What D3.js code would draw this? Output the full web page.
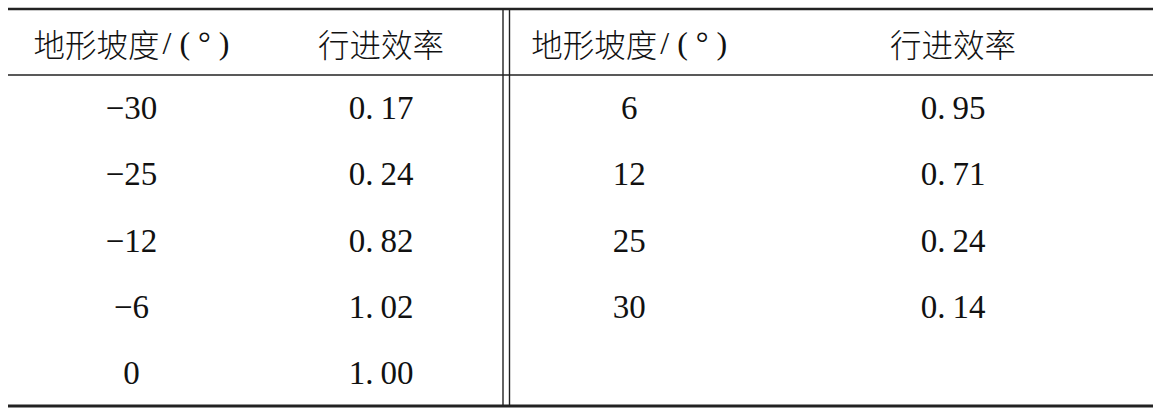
<!DOCTYPE html>
<html>
<head>
<meta charset="utf-8">
<script src="https://cdn.jsdelivr.net/npm/d3@7/dist/d3.min.js"></script>
<style>
  html, body { margin: 0; padding: 0; background: #fff; }
  svg { display: block; }
</style>
</head>
<body>
<svg id="chart" width="1160" height="416"></svg>
<script>
// ---- data ----
const headers = ["地形坡度/(°)", "行进效率", "地形坡度/(°)", "行进效率"];
const slopeLeft = [-30, -25, -12, -6, 0];
const effLeft = [0.17, 0.24, 0.82, 1.02, 1.00];
const slopeRight = [6, 12, 25, 30];
const effRight = [0.95, 0.71, 0.24, 0.14];

// ---- layout ----
const tLeft = 8, tRight = 1153, tTop = 9, tBottom = 406, headerBottom = 75;
const colEdges = [tLeft, 255, 503, 509.5, 749, tRight]; // 503/509.5 = double rule
const nRows = 5;

const svg = d3.select("#chart");

const yRow = d3.scaleBand().domain(d3.range(nRows)).range([headerBottom, tBottom]);
const colCenter = [
  (colEdges[0] + colEdges[1]) / 2,
  (colEdges[1] + colEdges[2]) / 2 + 2,
  (colEdges[3] + colEdges[4]) / 2,
  (colEdges[4] + colEdges[5]) / 2 + 2
];

const cjk = "'Noto Sans CJK SC', 'Noto Sans CJK JP', sans-serif";
const serif = "'Liberation Serif', 'DejaVu Serif', serif";

// header
svg.selectAll("text.h").data(headers).join("text")
  .attr("class", "h")
  .attr("x", (d, i) => colCenter[i])
  .attr("y", (tTop + headerBottom) / 2 + 1)
  .attr("text-anchor", "middle")
  .attr("dominant-baseline", "central")
  .style("font-family", cjk)
  .style("font-weight", 300)
  .style("font-size", "31.5px")
  .style("fill", "#111")
  .each(function(d) {
    const t = d3.select(this);
    const m = d.match(/^(.*?)(\/\(°)(\))?$/);
    if (m) {
      t.append("tspan").text(m[1]);
      t.append("tspan").attr("dx", 3).style("font-family", serif).style("font-size", "32px")
        .style("letter-spacing", "8px").text(m[2]);
      t.append("tspan").style("font-family", serif).style("font-size", "32px").text(m[3]);
    } else {
      t.text(d);
    }
  });

function fmtSlope(v) { return v < 0 ? "\u2212" + Math.abs(v) : String(v); }

function drawNumber(sel, txt) {
  const parts = txt.split(".");
  if (parts.length === 2) {
    sel.append("tspan").text(parts[0] + ".");
    sel.append("tspan").attr("dx", 7).text(parts[1]);
  } else {
    sel.text(txt);
  }
}

const cells = [];
slopeLeft.forEach((v, i) => {
  cells.push({ col: 0, row: i, txt: fmtSlope(v) });
  cells.push({ col: 1, row: i, txt: effLeft[i].toFixed(2) });
});
slopeRight.forEach((v, i) => {
  cells.push({ col: 2, row: i, txt: fmtSlope(v) });
  cells.push({ col: 3, row: i, txt: effRight[i].toFixed(2) });
});

svg.selectAll("text.c").data(cells).join("text")
  .attr("class", "c")
  .attr("x", d => colCenter[d.col])
  .attr("y", d => yRow(d.row) + yRow.bandwidth() / 2)
  .attr("text-anchor", "middle")
  .attr("dominant-baseline", "central")
  .style("font-family", serif)
  .style("font-size", "33px")
  .style("fill", "#111")
  .each(function(d) { drawNumber(d3.select(this), d.txt); });

// rules
const ruleColor = "#222";
svg.append("line").attr("x1", tLeft).attr("x2", tRight).attr("y1", tTop).attr("y2", tTop)
  .attr("stroke", ruleColor).attr("stroke-width", 2.6);
svg.append("line").attr("x1", tLeft).attr("x2", tRight).attr("y1", headerBottom).attr("y2", headerBottom)
  .attr("stroke", ruleColor).attr("stroke-width", 1.3);
svg.append("line").attr("x1", tLeft).attr("x2", tRight).attr("y1", tBottom).attr("y2", tBottom)
  .attr("stroke", ruleColor).attr("stroke-width", 2.8);
[colEdges[2], colEdges[3]].forEach(x => {
  svg.append("line").attr("x1", x).attr("x2", x).attr("y1", tTop).attr("y2", tBottom)
    .attr("stroke", ruleColor).attr("stroke-width", 1.4);
});
</script>
</body>
</html>
